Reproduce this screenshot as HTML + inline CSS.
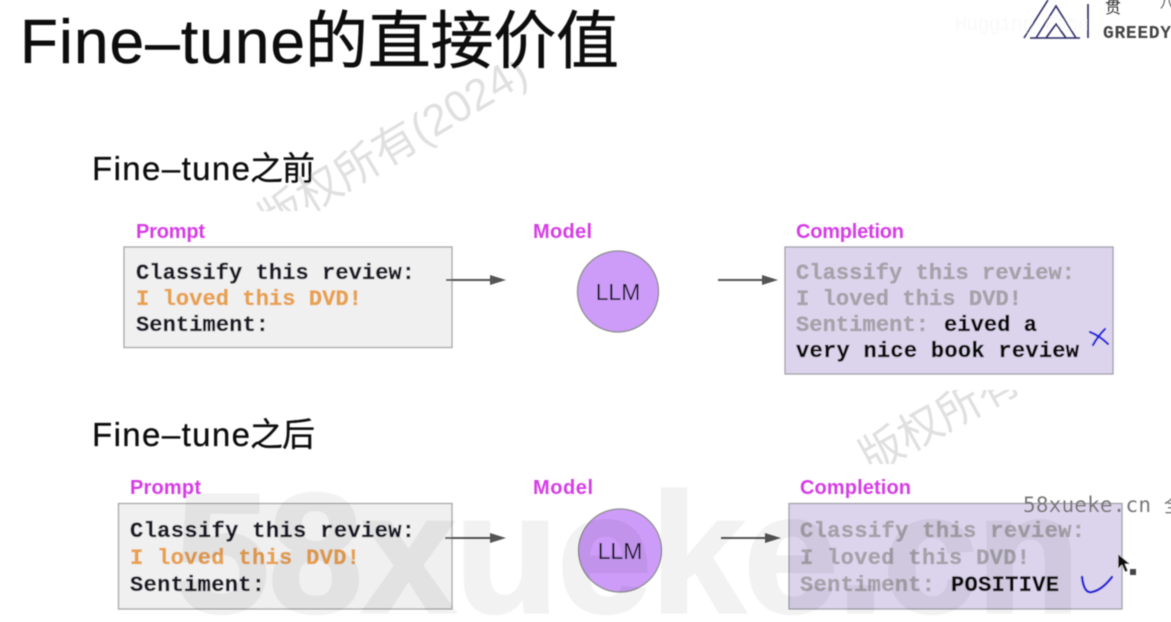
<!DOCTYPE html>
<html><head><meta charset="utf-8">
<style>
html,body{margin:0;padding:0;background:#fff;width:1171px;height:622px;overflow:hidden}
svg{display:block;overflow:hidden}
text{font-family:"Liberation Sans","Noto Sans CJK SC",sans-serif}
.m{font-family:"Liberation Mono",monospace;font-weight:700;font-size:22px;stroke-width:.35px}
.l{font-family:"Liberation Sans",sans-serif;font-weight:700;font-size:20px;fill:#d63ce6}
.t{fill:#111;stroke:#111;stroke-width:.5px}
</style></head><body>
<svg width="1171" height="622" viewBox="0 0 1171 622" xmlns="http://www.w3.org/2000/svg">
<defs><filter id="b" x="-5%" y="-5%" width="110%" height="110%"><feGaussianBlur stdDeviation="0.55"/></filter>
<clipPath id="c1"><rect x="200" y="62" width="360" height="149"/></clipPath>
<clipPath id="c2"><rect x="850" y="390" width="200" height="74"/></clipPath></defs>
<g filter="url(#b)">
<!-- rotated watermarks -->
<g clip-path="url(#c1)"><text transform="translate(233,259) rotate(-31)" font-size="44" fill="#e0e0e0">七版权所有(2024)</text></g>
<g clip-path="url(#c2)"><text transform="translate(870,474) rotate(-29)" font-size="44" fill="#e0e0e0">版权所有</text></g>
<text x="955" y="30" font-size="20" fill="#f9f9f9" textLength="135" style="font-family:'Liberation Mono',monospace">Hugging Face</text>

<text class="t" x="20" y="63" font-size="62" textLength="285">Fine–tune</text>
<text class="t" x="305" y="63" font-size="63" textLength="314">的直接价值</text>
<text class="t" x="92" y="180" font-size="33" style="stroke-width:.3px" textLength="158">Fine–tune</text>
<text class="t" x="250" y="180" font-size="33" style="stroke-width:.3px" textLength="65">之前</text>
<text class="t" x="92" y="446" font-size="33" style="stroke-width:.3px" textLength="158">Fine–tune</text>
<text class="t" x="250" y="446" font-size="33" style="stroke-width:.3px" textLength="65">之后</text>

<!-- top row -->
<text class="l" x="136" y="238" textLength="69">Prompt</text>
<text class="l" x="533" y="238" textLength="59">Model</text>
<text class="l" x="796" y="238" textLength="108">Completion</text>
<rect x="124" y="247" width="328" height="100.500" fill="#f0f0f0" stroke="#a6a6a6" stroke-width="1.300"/>
<text class="m" x="136" y="279" fill="#1a1a28" stroke="#1a1a28" textLength="279">Classify this review:</text>
<text class="m" x="136" y="305" fill="#e8a04e" stroke="#e8a04e" textLength="226">I loved this DVD!</text>
<text class="m" x="136" y="331" fill="#1a1a28" stroke="#1a1a28" textLength="133">Sentiment:</text>
<line x1="446" y1="280" x2="492" y2="280" stroke="#555" stroke-width="2"/>
<polygon points="490,275 506,280 490,285" fill="#555"/>
<circle cx="618" cy="291.500" r="40.500" fill="#cd9cf8" stroke="#8d8d8d" stroke-width="1.300"/>
<text x="618" y="300" font-size="23" fill="#15152a" text-anchor="middle">LLM</text>
<line x1="718" y1="280" x2="764" y2="280" stroke="#555" stroke-width="2"/>
<polygon points="762,275 778,280 762,285" fill="#555"/>
<rect x="785" y="247" width="328" height="127" fill="#dcd4ec" stroke="#a0a0a8" stroke-width="1.300"/>
<text class="m" x="796" y="279" fill="#a5a2aa" stroke="#a5a2aa" textLength="279">Classify this review:</text>
<text class="m" x="796" y="305" fill="#a5a2aa" stroke="#a5a2aa" textLength="226">I loved this DVD!</text>
<text class="m" x="796" y="331" fill="#a5a2aa" stroke="#a5a2aa" textLength="133">Sentiment:</text>
<text class="m" x="944" y="331" fill="#0b0b0b" stroke="#0b0b0b" textLength="93">eived a</text>
<text class="m" x="796" y="357" fill="#0b0b0b" stroke="#0b0b0b" textLength="283">very nice book review</text>
<path d="M1090 332 Q1100 336 1108 344 M1105 329 Q1098 336 1093 345" fill="none" stroke="#1a1ad8" stroke-width="2.200" stroke-linecap="round"/>

<!-- bottom row -->
<text class="l" x="130" y="494" textLength="71">Prompt</text>
<text class="l" x="533" y="494" textLength="60">Model</text>
<text class="l" x="800" y="494" textLength="111">Completion</text>
<rect x="118.500" y="503.500" width="333.500" height="105.500" fill="#f0f0f0" stroke="#a6a6a6" stroke-width="1.300"/>
<text class="m" x="130" y="537" fill="#1a1a28" stroke="#1a1a28" textLength="285">Classify this review:</text>
<text class="m" x="130" y="564" fill="#e8a04e" stroke="#e8a04e" textLength="230">I loved this DVD!</text>
<text class="m" x="130" y="591" fill="#1a1a28" stroke="#1a1a28" textLength="135">Sentiment:</text>
<line x1="445" y1="538" x2="492" y2="538" stroke="#555" stroke-width="2"/>
<polygon points="490,533 506,538 490,543" fill="#555"/>
<circle cx="620" cy="550.500" r="41.500" fill="#cd9cf8" stroke="#8d8d8d" stroke-width="1.300"/>
<text x="620" y="559" font-size="23" fill="#15152a" text-anchor="middle">LLM</text>
<line x1="721" y1="538" x2="767" y2="538" stroke="#555" stroke-width="2"/>
<polygon points="765,533 781,538 765,543" fill="#555"/>
<rect x="789" y="503.500" width="333" height="105.500" fill="#dcd4ec" stroke="#a0a0a8" stroke-width="1.300"/>
<text class="m" x="800" y="537" fill="#a5a2aa" stroke="#a5a2aa" textLength="285">Classify this review:</text>
<text class="m" x="800" y="564" fill="#a5a2aa" stroke="#a5a2aa" textLength="230">I loved this DVD!</text>
<text class="m" x="800" y="591" fill="#a5a2aa" stroke="#a5a2aa" textLength="135">Sentiment:</text>
<text class="m" x="951" y="591" fill="#0b0b0b" stroke="#0b0b0b" textLength="108">POSITIVE</text>
<path d="M1082 577 Q1084 594 1092 592 Q1102 590 1112 577" fill="none" stroke="#1a1ad8" stroke-width="2.400" stroke-linecap="round"/>

<!-- big watermark -->
<g opacity="0.05"><text x="175" y="612" font-size="170" font-weight="700" fill="#000" stroke="#000" stroke-width="3" textLength="905">58xueke.cn</text></g>

<!-- logo -->
<g fill="none" stroke="#2a2a66" stroke-width="1.600">
<path d="M1024 38 L1048 0 M1036 38 L1056 6 L1076 38 M1030 38 L1080 38 M1088 4 L1088 38 M1046 38 L1056 24 L1066 38"/>
</g>
<text x="1105" y="13" font-size="16" fill="#333">贯</text>
<text x="1160" y="8" font-size="14" fill="#555">八</text>
<text x="1103" y="38" font-size="18" font-weight="700" fill="#444" textLength="68" style="font-family:'Liberation Mono',monospace">GREEDY</text>

<!-- site watermark -->
<text x="1023" y="512" font-size="21" fill="#777" textLength="128" style="font-family:'DejaVu Sans Mono',monospace">58xueke.cn</text>
<text x="1164" y="512" font-size="20" fill="#777">全</text>

<!-- cursor -->
<path d="M1118 554 L1118 569 L1122 565 L1125 572 L1128 571 L1125 564 L1130 564 Z" fill="#111" stroke="#eee" stroke-width="0.500"/>
<rect x="1130" y="569" width="6" height="6" fill="#444"/>
</g>
</svg>
</body></html>
